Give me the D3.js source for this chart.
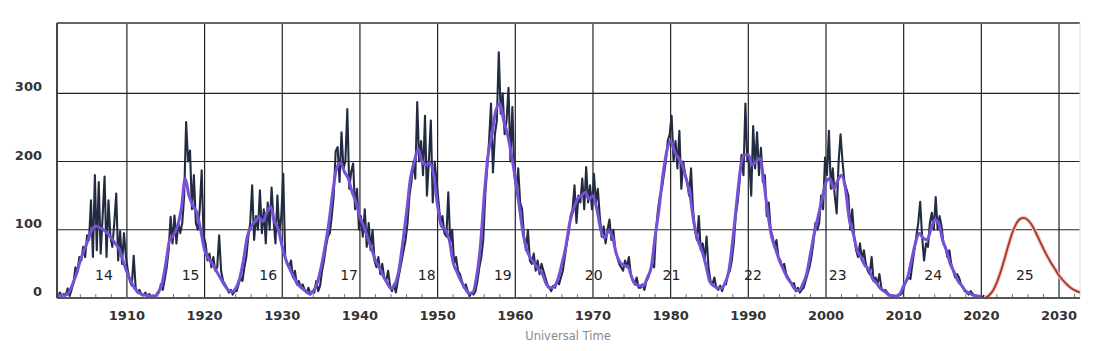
<!DOCTYPE html>
<html>
<head>
<meta charset="utf-8">
<script src="https://cdn.jsdelivr.net/npm/d3@7"></script>
<style>
  body { margin: 0; background: #fff; }
  svg { display: block; font-family: "DejaVu Sans", Verdana, sans-serif; }
</style>
</head>
<body>
<div id="chart"></div>
<script>
// Sunspot number, monthly (read at quarter-year steps), smoothed and predicted

const monthlyStart = 1901;   // first quarter of 1901, 4 values per year
const monthly = [
  2, 8, 3, 6,        4, 14, 3, 12,      22, 45, 38, 60,     55, 75, 60, 92,
  85, 143, 60, 180,  70, 170, 65, 120,  178, 60, 143, 90,   75, 110, 153, 55,
  98, 50, 95, 60,    40, 25, 18, 62,    15, 8, 12, 5,       4, 8, 3, 6,
  2, 4, 1, 6,        8, 20, 12, 28,     45, 70, 119, 80,    121, 80, 110, 95,
  110, 150, 258, 200, 216, 130, 180, 110, 100, 130, 187, 90, 80, 55, 65, 45,
  60, 40, 45, 92,    40, 25, 20, 15,    8, 12, 5, 10,       10, 20, 30, 25,
  45, 60, 90, 110,   165, 85, 120, 100, 158, 95, 130, 80,   140, 100, 162, 115,
  80, 150, 95, 120,  182, 60, 50, 45,   55, 30, 40, 20,     25, 15, 20, 12,
  8, 15, 5, 10,      8, 25, 10, 18,     40, 55, 75, 90,     95, 120, 150, 215,
  221, 170, 243, 190, 200, 277, 160, 185, 197, 130, 160, 100, 120, 90, 130, 75,
  110, 70, 100, 55,  45, 60, 35, 50,    30, 25, 40, 18,     10, 20, 8, 25,
  40, 55, 70, 85,    110, 150, 170, 200, 175, 287, 200, 230, 180, 267, 150, 200,
  260, 140, 200, 170, 140, 110, 120, 95, 90, 155, 80, 100,  50, 60, 40, 35,
  25, 15, 20, 10,    3, 8, 5, 10,       25, 45, 60, 85,     150, 190, 230, 285,
  184, 240, 260, 360, 270, 300, 240, 260, 308, 200, 280, 180, 160, 190, 140, 130,
  90, 70, 100, 55,   50, 65, 40, 55,    35, 50, 40, 30,     20, 15, 10, 18,
  15, 25, 20, 30,    40, 60, 80, 95,    120, 130, 165, 110, 150, 140, 175, 130,
  192, 140, 165, 130, 182, 140, 160, 120, 90, 105, 80, 100, 115, 85, 100, 70,
  60, 50, 45, 40,    55, 45, 60, 35,    25, 20, 30, 15,     15, 20, 12, 25,
  30, 40, 50, 45,    100, 130, 150, 160, 180, 200, 230, 240, 267, 200, 230, 190,
  245, 160, 200, 180, 170, 150, 190, 130, 100, 85, 120, 70, 80, 55, 90, 45,
  25, 20, 30, 15,    12, 18, 10, 20,    20, 35, 40, 55,     80, 120, 140, 170,
  210, 180, 285, 200, 200, 150, 252, 190, 243, 180, 220, 170, 180, 120, 140, 100,
  90, 75, 85, 60,    55, 45, 50, 35,    30, 25, 20, 22,     10, 15, 8, 12,
  15, 25, 35, 45,    60, 80, 110, 100,  110, 150, 130, 206,  180, 245, 160, 190,
  150, 124, 200, 240, 200, 170, 160, 150, 100, 130, 90, 70, 60, 80, 55, 70,
  50, 40, 35, 60,    25, 30, 20, 35,    15, 10, 12, 8,      5, 3, 4, 2,
  2, 4, 5, 8,        20, 25, 30, 28,    50, 70, 90, 110,    141, 90, 55, 80,
  75, 110, 125, 100, 148, 100, 120, 105, 80, 75, 60, 70,    50, 40, 30, 35,
  30, 20, 15, 10,    8, 5, 10, 6,       4, 2, 3, 1,         1, 4
];

const smoothedStart = 1901;  // 2 values per year
const smoothed = [
  3, 4, 4, 8, 20, 35, 55, 70, 85, 100, 105, 103, 100, 95, 88, 80, 72, 55, 38, 25,
  14, 8, 5, 4, 3, 2, 8, 20, 50, 85, 92, 105, 130, 175, 150, 135, 125, 100, 70, 58,
  50, 40, 30, 20, 12, 9, 14, 28, 55, 90, 105, 112, 118, 112, 125, 134, 112, 100, 75, 55,
  42, 30, 20, 15, 10, 6, 10, 22, 45, 75, 110, 155, 190, 198, 185, 175, 155, 140, 118, 105,
  88, 72, 55, 45, 32, 22, 14, 20, 40, 80, 125, 175, 200, 218, 200, 195, 198, 180, 135, 105,
  100, 85, 52, 38, 25, 15, 7, 8, 30, 75, 150, 210, 240, 275, 285, 260, 240, 210, 175, 135,
  95, 70, 58, 50, 42, 35, 20, 15, 17, 28, 50, 75, 110, 130, 145, 150, 155, 145, 150, 130,
  100, 88, 98, 90, 65, 52, 48, 46, 30, 20, 18, 18, 30, 45, 90, 130, 180, 215, 230, 215,
  205, 195, 175, 150, 110, 85, 70, 50, 25, 18, 15, 14, 22, 40, 85, 140, 190, 210, 210, 195,
  200, 205, 170, 125, 90, 72, 55, 42, 30, 22, 13, 11, 20, 35, 65, 95, 120, 145, 170, 175,
  160, 172, 180, 160, 115, 95, 70, 60, 48, 42, 28, 22, 14, 10, 5, 3, 3, 6, 18, 30,
  55, 80, 95, 88, 85, 100, 115, 110, 85, 70, 50, 38, 25, 18, 10, 7, 4, 3, 2
];

const predYears = [2020.4, 2020.7, 2021, 2021.5, 2022, 2022.5, 2023, 2023.5, 2024, 2024.5,
  2025, 2025.5, 2026, 2026.5, 2027, 2027.5, 2028, 2028.5, 2029, 2029.5,
  2030, 2030.5, 2031, 2031.5, 2032, 2032.5, 2032.7];
const predValues = [0, 1.5, 4, 11, 23, 39, 58, 78, 96, 109,
  116, 117.5, 114, 107, 96, 84, 72, 61, 51, 42,
  33, 26, 20, 15, 11.5, 9, 8];

const cycleNames = ["14", "15", "16", "17", "18", "19", "20", "21", "22", "23", "24", "25"];
const cycleYears = [1907.05, 1918.2, 1928.2, 1938.6, 1948.6, 1958.4, 1970.1, 1980.1, 1990.6, 2001.5, 2013.8, 2025.6];

const yTicks = [0, 100, 200, 300];
const xTicks = [1910, 1920, 1930, 1940, 1950, 1960, 1970, 1980, 1990, 2000, 2010, 2020, 2030];
const minorTicks = d3.range(1902, 2033, 2).filter(d => d % 10 !== 0);

const W = 1115, H = 351;
const plotL = 57, plotR = 1080, plotT = 23, plotB = 298;

const svg = d3.select("#chart").append("svg")
  .attr("width", W).attr("height", H);

svg.append("rect").attr("width", W).attr("height", H).attr("fill", "#fff");

const x = d3.scaleLinear().domain([1901, 2032.7]).range([plotL, plotR]);
const y = d3.scaleLinear().domain([0, 403]).range([plotB, plotT]);

// grid
svg.append("g").selectAll("line")
  .data(yTicks.filter(d => d > 0))
  .join("line")
  .attr("x1", plotL).attr("x2", plotR)
  .attr("y1", d => y(d)).attr("y2", d => y(d))
  .attr("stroke", "#222").attr("stroke-width", 1.2);

svg.append("g").selectAll("line")
  .data(xTicks)
  .join("line")
  .attr("x1", d => x(d)).attr("x2", d => x(d))
  .attr("y1", plotT).attr("y2", plotB)
  .attr("stroke", "#222").attr("stroke-width", 1.2);

// frame
svg.append("line").attr("x1", plotL).attr("x2", plotR).attr("y1", plotT).attr("y2", plotT)
  .attr("stroke", "#666").attr("stroke-width", 2);
svg.append("line").attr("x1", plotR).attr("x2", plotR).attr("y1", plotT).attr("y2", plotB)
  .attr("stroke", "#ddd").attr("stroke-width", 1);

// minor ticks
svg.append("g").selectAll("line")
  .data(minorTicks)
  .join("line")
  .attr("x1", d => x(d)).attr("x2", d => x(d))
  .attr("y1", plotB).attr("y2", plotB - 4)
  .attr("stroke", "#777").attr("stroke-width", 1);

// data lines
const monthlyPts = monthly.map((v, i) => [monthlyStart + i / 4 + 0.125, v]);
const smoothPts = smoothed.map((v, i) => [smoothedStart + i / 2, v]);
const predPts = predYears.map((t, i) => [t, predValues[i]]);

const line = d3.line().x(d => x(d[0])).y(d => y(d[1]));
const smoothLine = d3.line().x(d => x(d[0])).y(d => y(d[1])).curve(d3.curveMonotoneX);

svg.append("path").datum(monthlyPts)
  .attr("d", line)
  .attr("fill", "none").attr("stroke", "#212b42").attr("stroke-width", 2.1)
  .attr("stroke-linejoin", "round");

svg.append("path").datum(smoothPts)
  .attr("d", smoothLine)
  .attr("fill", "none").attr("stroke", "#7650d8").attr("stroke-width", 3)
  .attr("stroke-linejoin", "round");

svg.append("path").datum(predPts)
  .attr("d", smoothLine)
  .attr("fill", "none").attr("stroke", "#f2c6bd").attr("stroke-width", 4);
svg.append("path").datum(predPts)
  .attr("d", smoothLine)
  .attr("fill", "none").attr("stroke", "#a8362a").attr("stroke-width", 1.8);

// axes lines
svg.append("line").attr("x1", plotL).attr("x2", plotR).attr("y1", plotB).attr("y2", plotB)
  .attr("stroke", "#555").attr("stroke-width", 2);
svg.append("line").attr("x1", plotL).attr("x2", plotL).attr("y1", plotT).attr("y2", plotB)
  .attr("stroke", "#444").attr("stroke-width", 2);

// cycle numbers
svg.append("g").selectAll("text")
  .data(cycleNames)
  .join("text")
  .attr("x", (d, i) => x(cycleYears[i]))
  .attr("y", 280)
  .attr("text-anchor", "middle")
  .attr("font-size", 14)
  .attr("fill", "#222")
  .text(d => d);

// tick labels
svg.append("g").selectAll("text")
  .data(yTicks)
  .join("text")
  .attr("x", 42)
  .attr("y", d => y(d) - 2)
  .attr("text-anchor", "end")
  .attr("font-size", 13)
  .attr("font-weight", "bold")
  .attr("fill", "#333")
  .text(d => d);

svg.append("g").selectAll("text")
  .data(xTicks)
  .join("text")
  .attr("x", d => x(d))
  .attr("y", 320)
  .attr("text-anchor", "middle")
  .attr("font-size", 13)
  .attr("font-weight", "bold")
  .attr("fill", "#333")
  .text(d => d);

svg.append("text")
  .attr("x", 568).attr("y", 340)
  .attr("text-anchor", "middle")
  .attr("font-size", 11.5)
  .attr("fill", "#8a8a8a")
  .text("Universal Time");
</script>
</body>
</html>
